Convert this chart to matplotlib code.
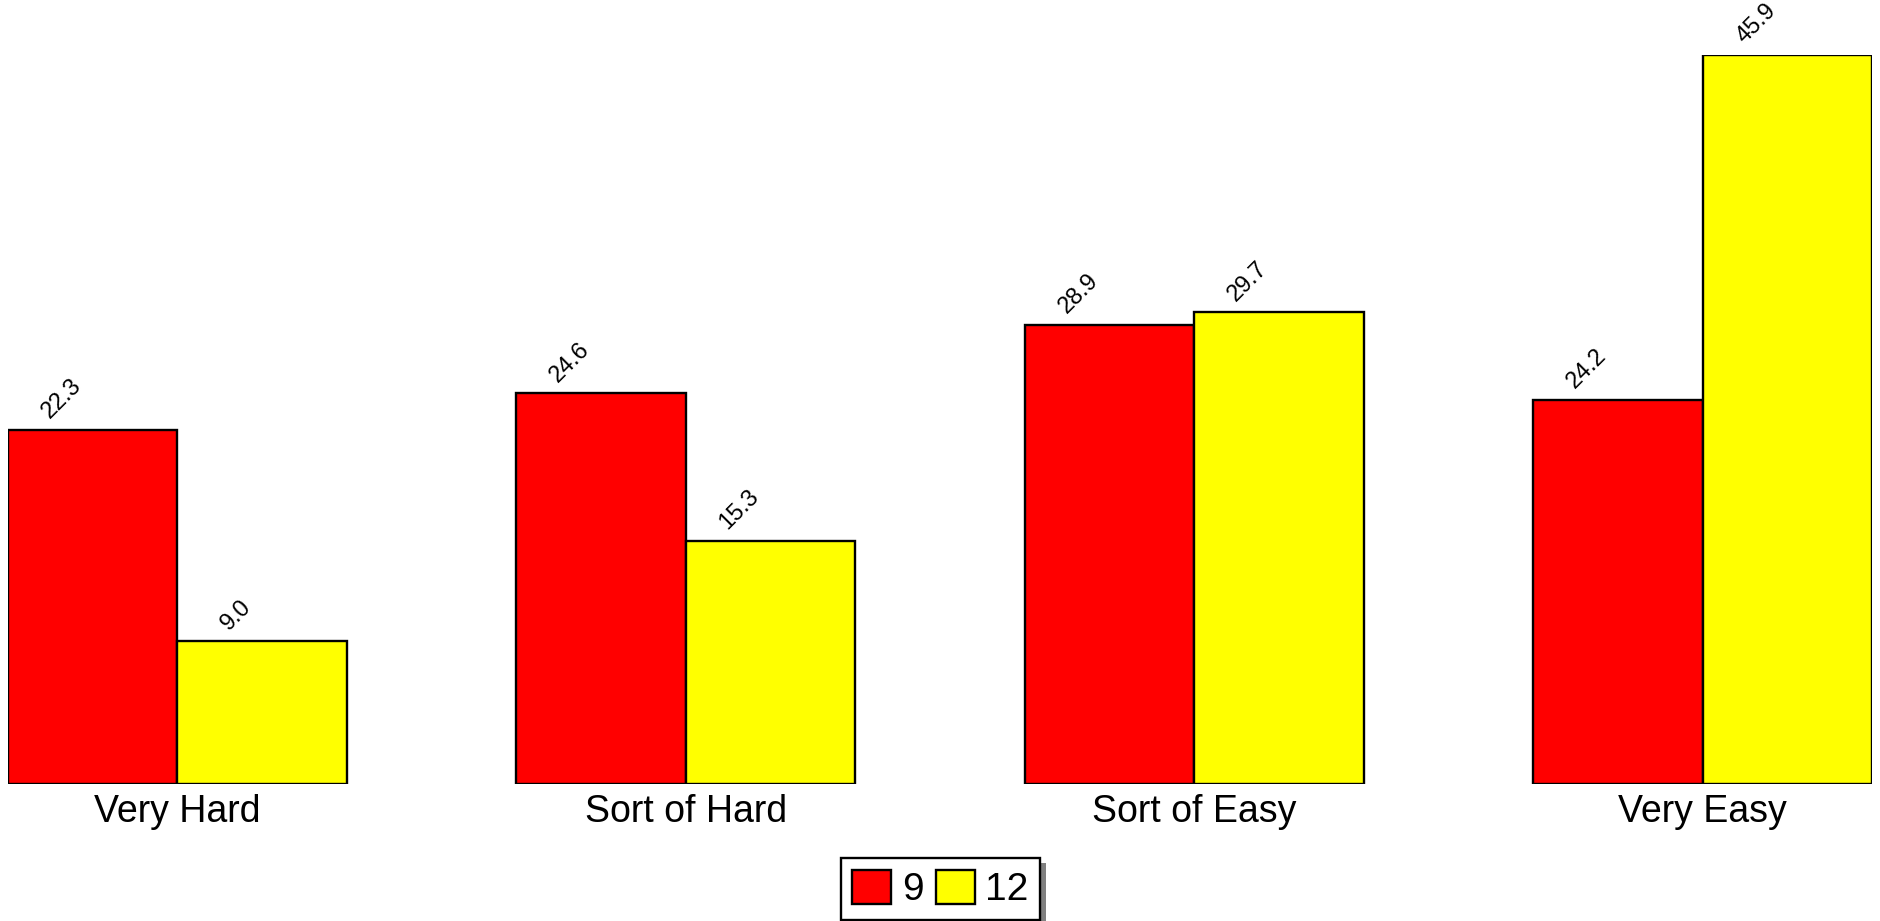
import numpy as np
import matplotlib
matplotlib.use("Agg")
import matplotlib.pyplot as plt
from matplotlib.patches import Rectangle

plt.rcParams['font.family'] = ['Liberation Sans', 'DejaVu Sans']

categories = ["Very Hard", "Sort of Hard", "Sort of Easy", "Very Easy"]
series_names = ["9", "12"]
grade9 = [22.3, 24.6, 28.9, 24.2]
grade12 = [9.0, 15.3, 29.7, 45.9]
colors = ["#ff0000", "#ffff00"]

W, H = 1881, 921
dpi = 100
fig = plt.figure(figsize=(W / dpi, H / dpi), dpi=dpi)

# plot area in pixels: left 8, right 1872, baseline 784, top 55
ax = fig.add_axes([8 / W, (H - 784) / H, 1864 / W, (784 - 55) / H])

x = np.arange(len(categories))
w = 1 / 3
for i, (vals, col, name) in enumerate(zip([grade9, grade12], colors, series_names)):
    pos = x - w / 2 + i * w
    ax.bar(pos, vals, width=w, color=col, edgecolor="black", linewidth=1.7, label=name)
    for px, v in zip(pos, vals):
        ax.annotate(f"{v:.1f}", xy=(px, v), xytext=(-7, 7), textcoords="offset pixels",
                    rotation=45, ha="right", va="bottom", fontsize=17, annotation_clip=False)

ax.set_xlim(-w, len(categories) - 1 + w)
ax.set_ylim(0, max(grade12))
ax.set_xticks(x)
ax.set_xticklabels(categories, fontsize=27)
ax.tick_params(axis="x", length=0, pad=7)
ax.set_yticks([])
for s in ax.spines.values():
    s.set_visible(False)

leg = fig.legend(loc="center", bbox_to_anchor=(0.5, 32 / H), ncol=2, fontsize=28,
                 frameon=True, fancybox=False, handlelength=1.0, handleheight=1.0,
                 handletextpad=0.27, columnspacing=0.32, borderpad=0.3, borderaxespad=0)
leg.get_frame().set_edgecolor("black")
leg.get_frame().set_linewidth(1.7)
leg.get_frame().set_alpha(None)
leg.get_frame().set_facecolor("white")
for h in leg.legend_handles:
    h.set_edgecolor("black")
    h.set_linewidth(1.7)

# drop shadow behind the legend box
fig.canvas.draw()
bb = leg.get_window_extent()
shadow = Rectangle(((bb.x0 + 6) / W, (bb.y0 - 5) / H), bb.width / W, bb.height / H,
                   transform=fig.transFigure, facecolor="#808080", edgecolor="none", zorder=leg.get_zorder() - 1)
fig.patches.append(shadow)

fig.savefig("out.png", dpi=dpi)
